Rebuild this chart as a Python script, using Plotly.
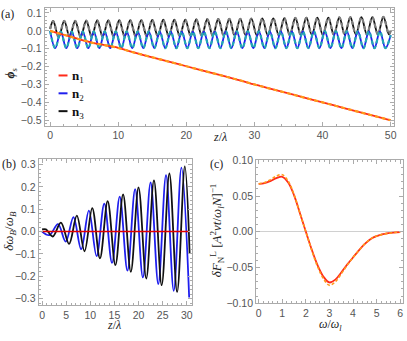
import plotly.graph_objects as go

# ---------------- panel (a): phase phi_s vs z/lambda ----------------
# n1 (red, solid) and its approximation (orange, dashed)
z_n1 = [0, 1, 2, 3, 4, 5, 6, 7, 8, 9, 10, 12, 14, 16, 18, 20, 22, 24, 26, 28, 30,
        32, 34, 36, 38, 40, 42, 44, 46, 48, 50]
phi_n1 = [0, -0.011, -0.022, -0.033, -0.044, -0.055, -0.065, -0.073, -0.080, -0.087, -0.095,
          -0.118, -0.138, -0.158, -0.178, -0.198, -0.218, -0.238, -0.258, -0.278, -0.300,
          -0.320, -0.340, -0.360, -0.380, -0.400, -0.420, -0.440, -0.460, -0.480, -0.500]

# n2 (blue) : extrema
z_n2 = [0, 0.75, 1.56, 2.37, 3.17, 3.98, 4.79, 5.60, 6.41, 7.22, 8.02, 8.83, 9.64, 10.45,
        11.25, 12.06, 12.87, 13.68, 14.49, 15.30, 16.10, 16.91, 17.72, 18.53, 19.33, 20.14,
        20.95, 21.76, 22.57, 23.38, 24.18, 24.99, 25.80, 26.61, 27.41, 28.22, 29.03, 29.84,
        30.65, 31.46, 32.26, 33.07, 33.88, 34.69, 35.49, 36.30, 37.11, 37.92, 38.73, 39.54,
        40.34, 41.15, 41.96, 42.77, 43.57, 44.38, 45.19, 46.00, 46.81, 47.62, 48.42, 49.23, 50.0]
phi_n2 = [0, -0.097, -0.005, -0.097, -0.005, -0.097, -0.005, -0.097, -0.005, -0.097, -0.005,
          -0.097, -0.005, -0.097, -0.004, -0.097, -0.004, -0.097, -0.004, -0.097, -0.004,
          -0.097, -0.004, -0.097, -0.004, -0.097, -0.004, -0.097, -0.004, -0.097, -0.004,
          -0.097, -0.003, -0.097, -0.003, -0.097, -0.003, -0.097, -0.003, -0.097, -0.003,
          -0.097, -0.003, -0.097, -0.003, -0.097, -0.003, -0.097, -0.003, -0.097, -0.003,
          -0.097, -0.003, -0.097, -0.003, -0.097, -0.003, -0.097, -0.003, -0.097, -0.003,
          -0.097, -0.025]

# n3 (black) : extrema
z_n3 = [0, 0.45, 1.26, 2.07, 2.87, 3.68, 4.49, 5.30, 6.11, 6.91, 7.72, 8.53, 9.34, 10.15,
        10.95, 11.76, 12.57, 13.38, 14.19, 14.99, 15.80, 16.61, 17.42, 18.23, 19.03, 19.84,
        20.65, 21.46, 22.27, 23.07, 23.88, 24.69, 25.50, 26.31, 27.11, 27.92, 28.73, 29.54,
        30.35, 31.15, 31.96, 32.77, 33.58, 34.39, 35.19, 36.00, 36.81, 37.62, 38.43, 39.23,
        40.04, 40.85, 41.66, 42.47, 43.27, 44.08, 44.89, 45.70, 46.51, 47.31, 48.12, 48.93,
        49.74, 50.0]
phi_n3 = [0.01, 0.055, -0.035, 0.056, -0.034, 0.056, -0.034, 0.057, -0.033, 0.058, -0.033,
          0.058, -0.032, 0.059, -0.032, 0.060, -0.031, 0.060, -0.031, 0.061, -0.030,
          0.062, -0.030, 0.062, -0.029, 0.063, -0.029, 0.064, -0.028, 0.065, -0.028,
          0.066, -0.027, 0.067, -0.027, 0.067, -0.026, 0.068, -0.026, 0.069, -0.025,
          0.070, -0.025, 0.071, -0.024, 0.072, -0.024, 0.073, -0.023, 0.073, -0.023,
          0.074, -0.022, 0.075, -0.022, 0.076, -0.021, 0.076, -0.021, 0.077, -0.020,
          0.078, -0.020, 0.0]

# ---------------- panel (b): delta omega_B / omega_B ----------------
z_b_blue = [0, 1.5, 3.3, 4.9, 6.5, 8.1, 9.7, 11.3, 12.9, 14.5, 16.1, 17.7, 19.3, 20.9,
            22.5, 24.1, 25.7, 27.3, 28.9, 30.5]
dw_blue = [0, -0.016, 0.033, -0.045, 0.065, -0.079, 0.094, -0.11, 0.125, -0.14, 0.156,
           -0.175, 0.19, -0.205, 0.22, -0.235, 0.253, -0.265, 0.286, -0.295]
z_b_black = [0, 0.8, 2.2, 3.9, 5.6, 7.2, 8.8, 10.4, 12.0, 13.6, 15.2, 16.8, 18.4, 20.0,
             21.6, 23.2, 24.8, 26.4, 28.0, 29.6, 30.6]
dw_black = [0.01, 0.01, -0.022, 0.04, -0.055, 0.071, -0.088, 0.105, -0.12, 0.136, -0.15,
            0.166, -0.18, 0.198, -0.21, 0.229, -0.24, 0.26, -0.27, 0.292, -0.10]
z_b_red = [0, 30.6]
dw_red = [0, 0]

# ---------------- panel (c): delta F_N^L vs omega/omega_l ----------------
w_c = [0, 0.25, 0.5, 0.75, 1.0, 1.25, 1.5, 1.75, 2.0, 2.25, 2.5, 2.75, 3.0, 3.25, 3.5,
       3.75, 4.0, 4.25, 4.5, 4.75, 5.0, 5.5, 6.0]
dF_exact = [0.067, 0.068, 0.071, 0.075, 0.077, 0.069, 0.051, 0.026, 0.0, -0.025, -0.047,
            -0.063, -0.071, -0.067, -0.057, -0.046, -0.036, -0.026, -0.017, -0.010, -0.006,
            -0.002, -0.0005]
dF_approx = [0.067, 0.069, 0.073, 0.078, 0.080, 0.071, 0.052, 0.026, 0.0, -0.026, -0.049,
             -0.066, -0.075, -0.070, -0.059, -0.047, -0.036, -0.026, -0.017, -0.010, -0.006,
             -0.002, -0.0005]

W, H = 407, 341


def px(x):
    return x / W


def py(y):
    return 1 - y / H


RED, ORANGE = "#ff2a1a", "#ff9a1a"
BLUE, CYAN = "#1f1fee", "#22a7b4"
BLACK, GRAY = "#111111", "#808080"

fig = go.Figure()


def curve(x, y, color, width, xa, ya, dash=None):
    fig.add_trace(go.Scatter(
        x=x, y=y, mode="lines", xaxis=xa, yaxis=ya, showlegend=False, hoverinfo="skip",
        line=dict(color=color, width=width, dash=dash, shape="spline", smoothing=1),
    ))


# (a)
curve(z_n3, phi_n3, BLACK, 1.8, "x", "y")
curve(z_n3, phi_n3, GRAY, 2.2, "x", "y", dash="4px,3px")
curve(z_n2, phi_n2, BLUE, 1.8, "x", "y")
curve(z_n2, phi_n2, CYAN, 2.2, "x", "y", dash="4px,3px")
curve(z_n1, phi_n1, RED, 1.8, "x", "y")
curve(z_n1, phi_n1, ORANGE, 2.2, "x", "y", dash="4px,3px")

# (b)
curve(z_b_blue, dw_blue, BLUE, 1.8, "x2", "y2")
curve(z_b_black, dw_black, BLACK, 1.8, "x2", "y2")
curve(z_b_red, dw_red, "#e00000", 1.5, "x2", "y2")

# (c)
curve(w_c, dF_exact, RED, 1.8, "x3", "y3")
curve(w_c, dF_approx, ORANGE, 1.6, "x3", "y3", dash="3px,2px")

FRAME = "#ababab"
TICKFONT = dict(family="Liberation Sans", size=10.5, color="#555555")


def ax(domain, rng, dtick, minor, fmt=None, anchor=None, zeroline=False):
    d = dict(domain=domain, range=rng, dtick=dtick, tick0=0, showgrid=False,
             showline=True, linecolor=FRAME, linewidth=1, mirror="allticks",
             ticks="inside", ticklen=4, tickcolor=FRAME, tickwidth=1,
             minor=dict(ticks="inside", ticklen=2, dtick=minor, tickcolor=FRAME, showgrid=False),
             tickfont=TICKFONT, zeroline=zeroline, zerolinecolor="#d0d0d0", zerolinewidth=1,
             anchor=anchor, fixedrange=True)
    if fmt:
        d["tickformat"] = fmt
    return d


fig.update_layout(
    width=W, height=H, margin=dict(l=0, r=0, t=0, b=0),
    paper_bgcolor="white", plot_bgcolor="white",
    xaxis=ax([px(45), px(397)], [-0.8, 50.5], 10, 2, anchor="y"),
    yaxis=ax([py(124), py(2)], [-0.53, 0.128], 0.1, 0.02, ".1f", anchor="x"),
    xaxis2=ax([px(39), px(193)], [-0.7, 31.0], 5, 1, anchor="y2"),
    yaxis2=ax([py(310), py(159)], [-0.329, 0.323], 0.1, 0.02, ".1f", anchor="x2"),
    xaxis3=ax([px(258), px(406)], [-0.11, 6.12], 1, 0.2, anchor="y3"),
    yaxis3=ax([py(308), py(160)], [-0.1, 0.1], 0.05, 0.01, ".2f", anchor="x3", zeroline=True),
)

SERIF = "Liberation Serif"
notes = [
    ("(a)", 8, 8, 12, 0, "middle"),
    ("(b)", 9, 164, 12, 0, "middle"),
    ("(c)", 218, 164, 12, 0, "middle"),
    ("<i>z</i>/<i>λ</i>", 222, 136, 12, 0, "middle"),
    ("<i>z</i>/<i>λ</i>", 115, 340, 12, 0, "bottom"),
    ("<i>ω</i>/<i>ω<sub>l</sub></i>", 333, 341, 12, 0, "bottom"),
    ("<b><i>ϕ</i></b><sub>s</sub>", 11, 70, 12, -90, "middle"),
    ("<i>δω<sub>B</sub></i>/<i>ω<sub>B</sub></i>", 10, 233, 13, -90, "middle"),
    ("<i>δF</i><sub>N</sub><sup>L</sup> [<i>A</i><sup>2</sup><i>νt</i>/<i>ω<sub>l</sub>N</i>]<sup>−1</sup>",
     218, 232, 13, -90, "middle"),
]
for text, x, y, size, ang, yanc in notes:
    fig.add_annotation(text=text, x=px(x), y=py(y), xref="paper", yref="paper",
                       xanchor="center", yanchor=yanc, showarrow=False, textangle=ang,
                       font=dict(family=SERIF, size=size, color="#222222"))

# legend of panel (a)
for label, color, y in [("1", RED, 72), ("2", BLUE, 90.5), ("3", BLACK, 109)]:
    fig.add_shape(type="line", xref="paper", yref="paper",
                  x0=px(59), x1=px(68), y0=py(y), y1=py(y), line=dict(color=color, width=2))
    fig.add_annotation(text=f"<b>n</b><sub>{label}</sub>", x=px(71), y=py(y + 1), xref="paper",
                       yref="paper", showarrow=False, xanchor="left", yanchor="middle",
                       font=dict(family=SERIF, size=13, color="#111111"))

# the page body has a default 8px margin; drop it so the figure fills the window
fig.write_html("out.html", config={"displayModeBar": False},
               post_script="document.body.style.margin='0';"
                           "document.body.style.overflow='hidden';")
